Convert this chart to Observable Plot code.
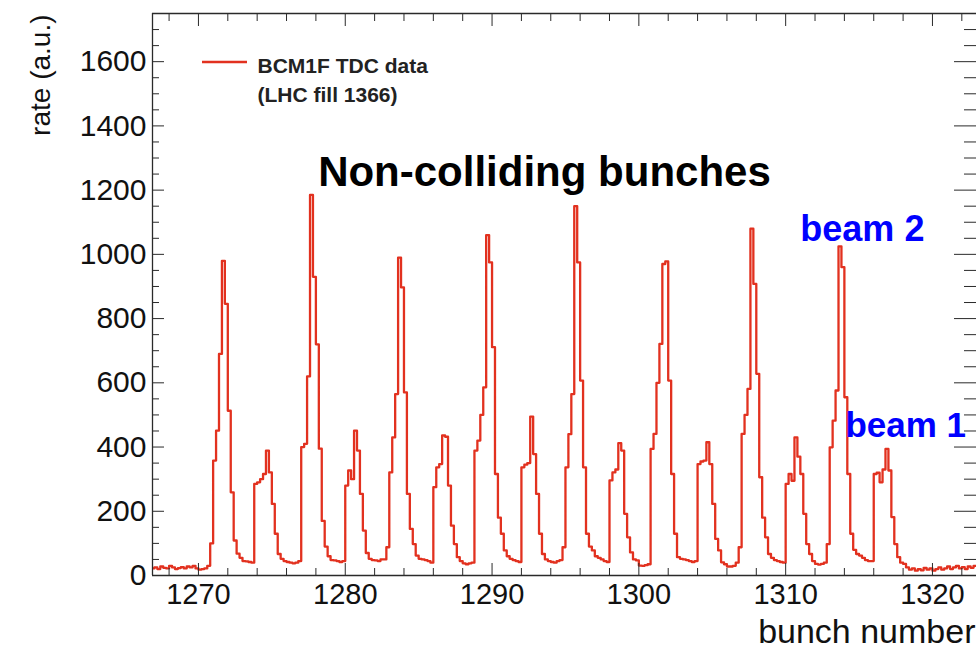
<!DOCTYPE html>
<html>
<head>
<meta charset="utf-8">
<script src="https://cdn.jsdelivr.net/npm/d3@7"></script>
<script src="https://cdn.jsdelivr.net/npm/@observablehq/plot@0.6"></script>
<style>
  html, body { margin: 0; padding: 0; background: #fff; }
  #chart { width: 976px; height: 651px; overflow: hidden; }
</style>
</head>
<body>
<div id="chart"></div>
<script>
// ---- data: BCM1F TDC rate per 0.2-bunch bin (LHC fill 1366) ----
const binStart = 1266.8;
const binWidth = 0.2;
const rateLead   = [22, 25,20,28,24,22, 30,25,20,23,26, 22,28,25,30,22, 18,20,22,30,100];
const rateCycle1 = [358,451,690,980,846, 513,259,109,68,55, 45,44,42,40,285, 290,300,316,389,321, 223,130,67,52,45, 42,40,38,40,45];
const rateCycle2 = [400,410,620,1185,930, 720,395,170,90,60, 48,47,45,42,45, 280,327,300,451,389, 254,140,70,52,48, 47,45,50,50,88];
const rateCycle3 = [321,430,565,990,897, 570,254,145,98,62, 52,50,48,45,40, 275,337,347,436,432, 280,155,98,57,45, 38,35,38,40,389];
const rateCycle4 = [420,500,586,1060,975, 711,316,180,130,78, 60,52,48,45,42, 337,345,350,495,378, 254,130,67,50,45, 42,40,45,48,88];
const rateCycle5 = [337,440,565,1150,975, 607,337,130,90,78, 60,55,50,45,42, 296,321,330,412,389, 192,119,72,50,47, 31,30,32,35,394];
const rateCycle6 = [441,600,721,970,978, 607,316,130,57,52, 50,48,45,42,45, 347,355,358,415,347, 223,114,78,41,35, 28,28,30,40,88];
const rateCycle7 = [441,500,581,1080,908, 628,306,180,119,67, 55,48,45,42,40, 285,316,295,430,370, 316,192,98,67,45, 36,34,36,40,98];
const rateCycle8 = [399,482,576,1025,960, 555,316,130,80,67, 62,55,48,45,45, 316,320,290,330,394, 327,182,98,57,40, 36,25,18,22,15];
const rateTail   = [20,16,24,18,22, 15,20,25,18,22, 28,20,25,30,22, 26,20,28,24,30];

// ---- axis ticks / labels ----
const xMajor = [1270, 1280, 1290, 1300, 1310, 1320];
const xMinor = [1268,1272,1274,1276,1278,1282,1284,1286,1288,1292,1294,1296,1298,1302,1304,1306,1308,1312,1314,1316,1318,1322];
const yMajor = [0, 200, 400, 600, 800, 1000, 1200, 1400, 1600];
const yMinor = [50,100,150,250,300,350,450,500,550,650,700,750,850,900,950,1050,1100,1150,1250,1300,1350,1450,1500,1550,1650,1700];

const annotationText = ["Non-colliding bunches", "beam 2", "beam 1"];
const legendText = ["BCM1F TDC data", "(LHC fill 1366)"];

// ---- build table ----
const rates = [].concat(rateLead, rateCycle1, rateCycle2, rateCycle3, rateCycle4,
                        rateCycle5, rateCycle6, rateCycle7, rateCycle8, rateTail);
const hist = rates.map((v, i) => ({bunch: Math.round((binStart + i * binWidth) * 10) / 10, rate: v}));
hist.push({bunch: Math.round((binStart + rates.length * binWidth) * 10) / 10, rate: rates[rates.length - 1]});

const xDomain = [1266.87, 1323.0];
const yDomain = [0, 1750];
const RED = "#e2311f";
const AX = "#2a2a2a";
const FONT = "'Liberation Sans', Arial, Helvetica, sans-serif";

const annotations = [
  {text: annotationText[0], x: 1293.57, y: 1214, size: 42, color: "#000", anchor: "middle"},
  {text: annotationText[1], x: 1311.0, y: 1043, size: 36, color: "#0000ff", anchor: "start"},
  {text: annotationText[2], x: 1314.07, y: 430, size: 35, color: "#0000ff", anchor: "start"}
];

const chart = Plot.plot({
  width: 976,
  height: 651,
  marginLeft: 152,
  marginRight: 0,
  marginTop: 13,
  marginBottom: 76,
  style: {fontFamily: FONT, background: "#fff", overflow: "visible"},
  x: {domain: xDomain},
  y: {domain: yDomain},
  marks: [
    // histogram
    Plot.line(hist, {x: "bunch", y: "rate", curve: "step-after", stroke: RED, strokeWidth: 2.3, clip: true}),
    // frame
    Plot.ruleY([yDomain[0]], {stroke: AX, strokeWidth: 1.3}),
    Plot.ruleY([yDomain[1]], {stroke: AX, strokeWidth: 1.3}),
    Plot.ruleX([xDomain[0]], {stroke: AX, strokeWidth: 1.3}),
    // inward ticks: bottom
    Plot.axisX(xMajor, {anchor: "bottom", tickSize: -12, stroke: AX, tickFormat: () => ""}),
    Plot.axisX(xMinor, {anchor: "bottom", tickSize: -7, stroke: AX, tickFormat: () => ""}),
    // top
    Plot.axisX(xMajor, {anchor: "top", tickSize: -12, stroke: AX, tickFormat: () => ""}),
    Plot.axisX(xMinor, {anchor: "top", tickSize: -7, stroke: AX, tickFormat: () => ""}),
    // left
    Plot.axisY(yMajor, {anchor: "left", tickSize: -12, stroke: AX, tickFormat: () => ""}),
    Plot.axisY(yMinor, {anchor: "left", tickSize: -7, stroke: AX, tickFormat: () => ""}),
    // right
    Plot.axisY(yMajor, {anchor: "right", tickSize: -23, stroke: AX, tickFormat: () => ""}),
    Plot.axisY(yMinor, {anchor: "right", tickSize: -13, stroke: AX, tickFormat: () => ""}),
    // tick labels
    Plot.axisX(xMajor, {anchor: "bottom", tickSize: 0, tickPadding: 8, fontSize: 29, fill: "#111", tickFormat: d => String(d), label: null}),
    Plot.axisY(yMajor, {anchor: "left", tickSize: 0, tickPadding: 6, fontSize: 30, fill: "#111", tickFormat: d => String(d), label: null}),
    // axis titles
    Plot.text(["rate (a.u.)"], {frameAnchor: "top-left", text: d => d, rotate: -90, textAnchor: "end", lineAnchor: "bottom",
      dx: -103, dy: 1, fontSize: 28, fill: "#111"}),
    Plot.text(["bunch number"], {frameAnchor: "bottom-right", text: d => d, textAnchor: "end", lineAnchor: "bottom",
      dx: -1, dy: 67, fontSize: 34, fill: "#111"}),
    // legend text
    Plot.text([legendText[0]], {frameAnchor: "top-left", text: d => d, textAnchor: "start", lineAnchor: "bottom",
      dx: 105, dy: 59, fontSize: 21, fontWeight: "bold", fill: "#222"}),
    Plot.text([legendText[1]], {frameAnchor: "top-left", text: d => d, textAnchor: "start", lineAnchor: "bottom",
      dx: 105, dy: 88, fontSize: 21, fontWeight: "bold", fill: "#222"}),
    // annotations
    ...annotations.map(a => Plot.text([a], {x: "x", y: "y", text: "text", textAnchor: a.anchor, lineAnchor: "bottom",
      fontSize: a.size, fontWeight: "bold", fill: a.color}))
  ]
});

// legend swatch
const svg = d3.select(chart);
svg.append("line")
  .attr("x1", 202).attr("x2", 247).attr("y1", 62).attr("y2", 62)
  .attr("stroke", RED).attr("stroke-width", 2.3);

document.getElementById("chart").appendChild(chart);
</script>
</body>
</html>
